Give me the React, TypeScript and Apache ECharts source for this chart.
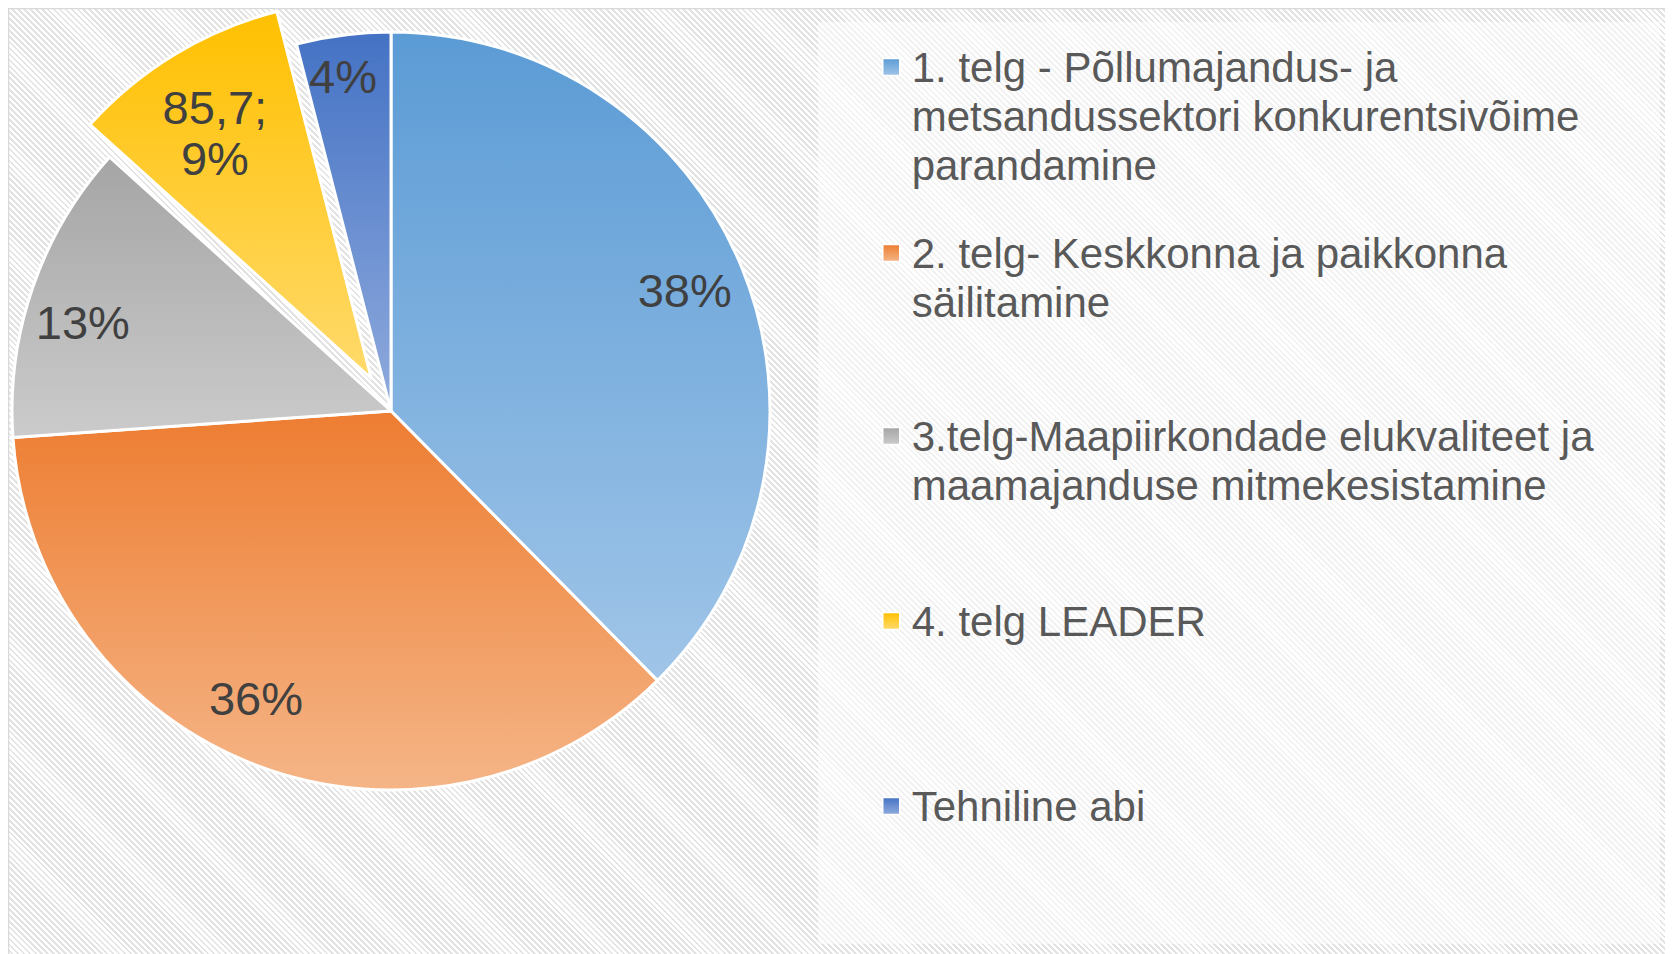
import React, { useEffect, useRef } from "react";
import * as echarts from "echarts";

const categories = [
  "1. telg - Põllumajandus- ja metsandussektori konkurentsivõime parandamine",
  "2. telg- Keskkonna ja paikkonna säilitamine",
  "3.telg-Maapiirkondade elukvaliteet ja maamajanduse mitmekesistamine",
  "4. telg LEADER",
  "Tehniline abi",
];
const values = [346.5, 334.5, 118, 85.7, 37];
const legendLines = [
  ["1. telg - Põllumajandus- ja", "metsandussektori konkurentsivõime", "parandamine"],
  ["2. telg- Keskkonna ja paikkonna", "säilitamine"],
  ["3.telg-Maapiirkondade elukvaliteet ja", "maamajanduse mitmekesistamine"],
  ["4. telg LEADER"],
  ["Tehniline abi"],
];
const showValueInLabel = [false, false, false, true, false];
const explodedSlices = [false, false, false, true, false];
const topColors = ["#5b9bd5", "#ed7d31", "#a5a5a5", "#ffc000", "#4472c4"];
const bottomColors = ["#a0c5e8", "#f5b587", "#cbcbcb", "#ffda6c", "#90abdd"];

export default function App() {
  const ref = useRef<HTMLDivElement>(null);
  useEffect(() => {
    const chart = echarts.init(ref.current!, null, { renderer: "svg" });
    const font = "'Liberation Sans', Arial, sans-serif";
    const LH = 49;
    const iconCenters = [59, 245, 428, 613, 798];
    const center = [383, 403];
    const R = 379;
    const explode = 38;
    const grad = (i: number) => ({
      type: "linear",
      x: 0,
      y: 0,
      x2: 0,
      y2: 1,
      colorStops: [
        { offset: 0, color: topColors[i] },
        { offset: 1, color: bottomColors[i] },
      ],
    });
    const pieData = categories.map((name, i) => ({
      name,
      value: values[i],
      selected: explodedSlices[i],
      itemStyle: { color: grad(i) },
    }));
    const labelData = categories.map((name, i) => ({
      name,
      value: values[i],
      selected: explodedSlices[i],
    }));
    const legends = categories.map((name, i) => {
      const n = legendLines[i].length;
      const T = (2 * n - 1) * LH;
      return {
        show: true,
        orient: "vertical",
        left: 874,
        top: iconCenters[i] - T / 2,
        padding: 0,
        data: [name],
        icon: "rect",
        itemWidth: 17,
        itemHeight: 17,
        itemStyle: { borderColor: "#ffffff", borderWidth: 1.5 },
        selectedMode: false,
        formatter: () => Array(n - 1).fill("").concat(legendLines[i]).join("\n"),
        textStyle: {
          fontFamily: font,
          fontSize: 42,
          color: "#595959",
          lineHeight: LH,
          padding: [0, 0, 0, 7],
        },
      };
    });
    const tweaks: Record<number, { dx: number; dy: number }> = {
      1: { dx: -23, dy: -10 },
      2: { dx: -8, dy: 15 },
      3: { dx: 8, dy: 26 },
      4: { dx: -8, dy: -19 },
    };
    chart.setOption({
      animation: false,
      backgroundColor: "transparent",
      legend: legends,
      graphic: [
        {
          type: "rect",
          shape: { x: 810, y: 14, width: 842, height: 922 },
          style: { fill: "rgba(255,255,255,0.55)" },
          silent: true,
          z: -1,
        },
        {
          type: "line",
          shape: { x1: 0, y1: 0.5, x2: 1665, y2: 0.5 },
          style: { stroke: "#d9d9d9", lineWidth: 1.5 },
          silent: true,
        },
        {
          type: "line",
          shape: { x1: 0.5, y1: 0, x2: 0.5, y2: 946 },
          style: { stroke: "#d9d9d9", lineWidth: 1.5 },
          silent: true,
        },
      ],
      series: [
        {
          type: "pie",
          center,
          radius: [0, R],
          startAngle: 90,
          clockwise: true,
          selectedMode: "multiple",
          selectedOffset: explode,
          itemStyle: { borderColor: "#ffffff", borderWidth: 3 },
          select: { itemStyle: { borderColor: "#ffffff", borderWidth: 3 } },
          emphasis: { disabled: true },
          label: { show: false },
          labelLine: { show: false },
          data: pieData,
        },
        {
          type: "pie",
          center,
          radius: [0, R * 1.66],
          startAngle: 90,
          clockwise: true,
          selectedMode: "multiple",
          selectedOffset: explode,
          silent: true,
          avoidLabelOverlap: false,
          itemStyle: { color: "rgba(0,0,0,0)", borderWidth: 0 },
          select: { itemStyle: { color: "rgba(0,0,0,0)", borderWidth: 0 } },
          emphasis: { disabled: true },
          label: {
            show: true,
            position: "inside",
            fontFamily: font,
            fontSize: 47,
            color: "#404040",
            lineHeight: 51,
            formatter: (p: any) => {
              const pct = Math.round(p.percent) + "%";
              return showValueInLabel[p.dataIndex]
                ? String(p.value).replace(".", ",") + ";\n" + pct
                : pct;
            },
          },
          labelLine: { show: false },
          labelLayout: (p: any) => tweaks[p.dataIndex] || {},
          data: labelData,
        },
      ],
    });
    return () => chart.dispose();
  }, []);
  return (
    <div
      ref={ref}
      style={{
        width: 1665,
        height: 946,
        background:
          "repeating-linear-gradient(45deg, #ffffff 0px, #ffffff 2.3px, #e3e3e3 2.3px, #e3e3e3 4.2px)",
      }}
    />
  );
}
